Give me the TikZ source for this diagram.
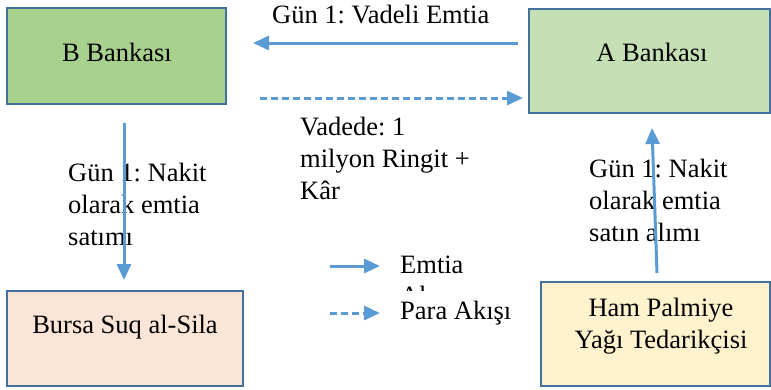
\documentclass[tikz,border=0pt]{standalone}
\usepackage{fontspec}
\setmainfont{Liberation Serif}
\usetikzlibrary{arrows.meta}
\definecolor{arrowblue}{HTML}{5B9BD5}
\definecolor{edgeblue}{HTML}{41719C}
\definecolor{bfill}{HTML}{A9D18E}
\definecolor{afill}{HTML}{C5E0B4}
\definecolor{sfill}{HTML}{FBE5D6}
\definecolor{hfill}{HTML}{FFF2CC}
\frenchspacing
\begin{document}
\begin{tikzpicture}[x=1pt,y=-1pt,
  box/.style={draw=edgeblue, line width=2pt, rectangle, inner sep=0pt},
  txt/.style={inner sep=0pt, font=\fontsize{26.5}{32}\selectfont},
  flow/.style={draw=arrowblue, line width=3pt, -{Triangle[length=16pt,width=14pt]}},
  money/.style={flow, dash pattern=on 7pt off 4pt}]
\useasboundingbox (0,0) rectangle (771,389);

% boxes
\node[box, fill=bfill, minimum width=219pt, minimum height=96pt] (B) at (116.5,56) {};
\node[box, fill=afill, minimum width=241pt, minimum height=104pt] (A) at (649.5,61) {};
\node[box, fill=sfill, minimum width=236pt, minimum height=95pt] (S) at (125,338.5) {};
\node[box, fill=hfill, minimum width=229pt, minimum height=104pt] (H) at (655.5,334) {};

\node[txt] (Bt) at (117,52) {B Bankası};
\node[txt] (At) at (652,52) {A Bankası};
\node[txt] (St) at (125,327) {Bursa Suq al-Sila};
\node[txt, align=center] (Ht) at (661,326) {Ham Palmiye\\Yağı Tedarikçisi};

% connectors
\coordinate (t1s) at (518,43);  \coordinate (t1e) at (253,43);
\coordinate (t2s) at (260,98);  \coordinate (t2e) at (523,98);
\coordinate (lvs) at (124,123); \coordinate (lve) at (124,280);
\coordinate (rvs) at (657,273); \coordinate (rve) at (652,128);
\draw[flow] (t1s) -- (t1e);
\draw[money] (t2s) -- (t2e);

% labels
\node[txt, anchor=west] (l1) at (272,15) {Gün 1: Vadeli Emtia};
\node[txt, anchor=west, align=left] (l2) at (300,158) {Vadede: 1\\milyon Ringit +\\Kâr};
\node[txt, anchor=west, align=left] (l3) at (68,204) {Gün 1: Nakit\\olarak emtia\\satımı};
\node[txt, anchor=west, align=left] (l4) at (589,200) {Gün 1: Nakit\\olarak emtia\\satın alımı};

\draw[flow] (lvs) -- (lve);
\draw[flow] (rvs) -- (rve);

% legend
\coordinate (g1s) at (330,266); \coordinate (g1e) at (380,266);
\coordinate (g2s) at (330,313); \coordinate (g2e) at (380,313);
\draw[flow] (g1s) -- (g1e);
\draw[money] (g2s) -- (g2e);
\node[txt, anchor=west] (e1) at (400,265) {Emtia};
\begin{scope}
  \clip (395,284) rectangle (470,290);
  \node[txt, anchor=base west] (e2) at (400,289) {\smash{\raisebox{-15pt}{Akışı}}};
\end{scope}
\node[txt, anchor=west] (e3) at (400,313) {Para Akışı};
\end{tikzpicture}
\end{document}
